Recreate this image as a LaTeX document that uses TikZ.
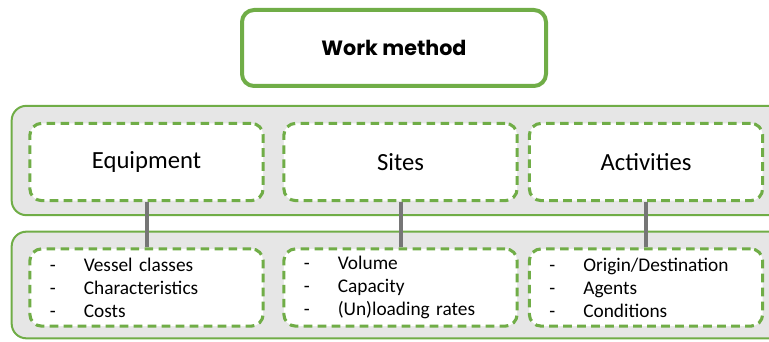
\documentclass[tikz,border=0pt]{standalone}
\usepackage{fontspec}
\setmainfont{Carlito}
\newfontfamily\titlefont{Poppins}
\usepackage{xcolor}
\usetikzlibrary{positioning}
\definecolor{leafgreen}{RGB}{112,173,71}
\definecolor{bandgray}{RGB}{230,230,230}
\definecolor{linkgray}{RGB}{118,118,118}

\begin{document}
\begin{tikzpicture}[x=0.75pt,y=-0.75pt,
        head/.style={draw=leafgreen,line width=3pt,fill=white,rounded corners=9pt,minimum width=228pt,minimum height=57pt,font=\titlefont\bfseries\fontsize{15.5}{18}\selectfont},
        band/.style={draw=leafgreen,line width=1.5pt,fill=bandgray,rounded corners=11pt,minimum width=584pt},
        topic/.style={draw=leafgreen,dashed,dash pattern=on 6.5pt off 4pt,line width=2.3pt,fill=white,rounded corners=9pt,minimum width=175pt,minimum height=58pt,font=\fontsize{18.5}{22}\selectfont},
        items/.style={topic,align=left,text width=145pt,inner xsep=15pt,font=\fontsize{14.5}{17.25}\selectfont},
        link/.style={draw=linkgray,line width=3pt},
    ]
    \useasboundingbox (0,0) rectangle (769,342);

    % heading
    \node[head] (method) at (394,48) {Work method};

    % grey bands behind the two rows (run off the right edge)
    \node[band,minimum height=82pt] (upper) at (401,160.5) {};
    \node[band,minimum height=80pt] (lower) at (401,285) {};

    % topics
    \node[topic] (equip) at (146.5,162) {Equipment};
    \node[topic] (sites) at (400.5,162) {Sites};
    \node[topic] (activ) at (646,162)   {Activities};

    % lists under each topic
    \node[items] (equiplist) at (146.5,287.5) {\makebox[25.5pt][l]{-}Vessel classes\\\makebox[25.5pt][l]{-}Characteristics\\\makebox[25.5pt][l]{-}Costs};
    \node[items] (siteslist) at (400.5,287.5) {\makebox[25.5pt][l]{-}Volume\\\makebox[25.5pt][l]{-}Capacity\\\makebox[25.5pt][l]{-}(Un)loading rates};
    \node[items] (activlist) at (646,287.5)   {\makebox[25.5pt][l]{-}Origin/Destination\\\makebox[25.5pt][l]{-}Agents\\\makebox[25.5pt][l]{-}Conditions};

    \draw[link] (equip.south) -- (equiplist.north);
    \draw[link] (sites.south) -- (siteslist.north);
    \draw[link] (activ.south) -- (activlist.north);
\end{tikzpicture}
\end{document}
